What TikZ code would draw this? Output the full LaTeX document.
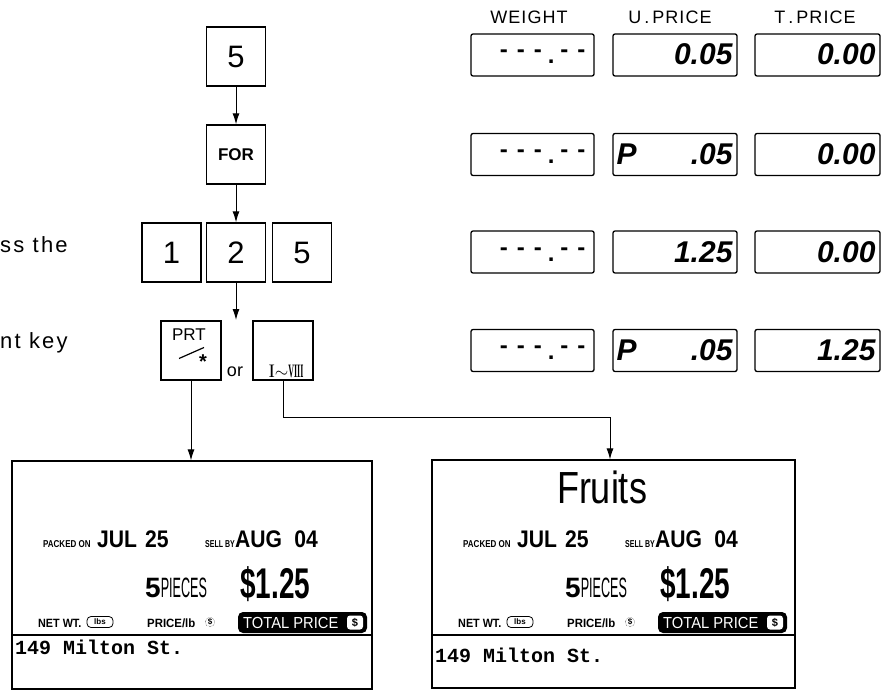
\documentclass[tikz,border=0pt]{standalone}
\usepackage{fontspec}
\usepackage{graphicx}
\setmainfont{Liberation Sans}
\setmonofont{Liberation Mono}
\newfontfamily\romanfont{Liberation Serif}
\usetikzlibrary{arrows.meta,calc}
\newcommand{\fs}[1]{\fontsize{#1}{#1}\selectfont}
\newcommand{\cnd}[2]{\scalebox{#1}[1]{#2}}
\newcommand{\lcddashes}{-\hspace{9pt}-\hspace{9pt}-\hspace{6pt}\raisebox{-6pt}{.}\hspace{6pt}-\hspace{9pt}-}
\tikzset{
 keybox/.style={draw, line width=1.3pt, minimum width=59pt, minimum height=59pt, inner sep=0pt},
 disp/.style={draw, line width=1.3pt, rounded corners=2pt, minimum height=42pt, inner sep=0pt},
 arr/.style={line width=1pt, -{Latex[length=11pt,width=7pt]}},
 labelbox/.style={draw, line width=1.1pt, inner sep=0pt},
 hdr/.style={font=\fs{18}\addfontfeature{LetterSpace=6}, inner sep=0pt},
 lcd/.style={font=\bfseries\itshape\fs{30}, inner sep=0pt, anchor=base east},
 txt/.style={inner sep=0pt, anchor=base west},
}
\newcommand{\labelcontent}[2]{%
 \node[txt, font=\bfseries\fs{10}] (#1packed) at (43,547) {\cnd{0.8}{PACKED ON}};
 \node[txt, font=\bfseries\fs{24}] (#1jul) at (97,547) {\cnd{0.88}{JUL\hspace{9pt}25}};
 \node[txt, font=\bfseries\fs{10}] (#1sell) at (205,547) {\cnd{0.7}{SELL BY}};
 \node[txt, font=\bfseries\fs{24}] (#1aug) at (235,547) {\cnd{0.88}{AUG\hspace{14pt}04}};
 \node[txt, font=\fs{28}] (#1pcs) at (145,597) {\textbf{5}\cnd{0.45}{PIECES}};
 \node[txt, font=\bfseries\fs{43}] (#1price) at (240,598) {\cnd{0.65}{\$1.25}};
 \node[txt, font=\bfseries\fs{12}] (#1net) at (38,627) {\cnd{0.9}{NET WT.}};
 \node[draw, line width=0.8pt, rounded corners=4pt, minimum width=26pt, minimum height=11pt, inner sep=0pt, font=\bfseries\fs{8}] (#1lbs) at (100,622) {lbs};
 \node[txt, font=\bfseries\fs{12}] (#1plb) at (147,627) {\cnd{0.95}{PRICE/lb}};
 \node[draw, densely dotted, circle, inner sep=0.6pt, font=\bfseries\fs{8}] (#1dol) at (210,622) {\$};
 \node[fill=black, rounded corners=5pt, minimum width=129pt, minimum height=21pt, inner sep=0pt] (#1tot) at (302.5,622.5) {};
 \node[txt, text=white, font=\fs{16}] (#1tott) at (243,628) {\cnd{0.92}{TOTAL PRICE}};
 \node[fill=white, rounded corners=3pt, minimum width=16pt, minimum height=14pt, inner sep=0pt, font=\bfseries\fs{11}] (#1totd) at (355,622.5) {\$};
 \node[txt, font=\ttfamily\bfseries\fs{20}] (#1addr) at (15,#2) {149 Milton St.};
}
\begin{document}
\begin{tikzpicture}[x=1pt, y=-1pt]
\useasboundingbox (0,0) rectangle (884,690);

% left partial text
\node[txt, font=\fs{22}\addfontfeature{LetterSpace=10}] (tx1) at (0,252) {ss the};
\node[txt, font=\fs{22}\addfontfeature{LetterSpace=10}] (tx2) at (0,348) {nt key};

% keys
\node[keybox] (k5) at (236,56.5) {\fs{31}5};
\node[keybox] (kfor) at (236,154.5) {\bfseries\fs{17}FOR};
\node[keybox] (k1) at (171.5,252.5) {\fs{31}1};
\node[keybox] (k2) at (236,252.5) {\fs{31}2};
\node[keybox] (k5b) at (302,252.5) {\fs{31}5};
\node[keybox, minimum width=60pt] (kprt) at (191,350.5) {};
\node[inner sep=0pt, font=\fs{17}] (kprtt) at (189,335) {PRT};
\draw[line width=1.2pt] ([shift={(-12pt,-8pt)}]kprt.center) coordinate (sa) -- ([shift={(13pt,3pt)}]kprt.center) coordinate (sb);
\node[inner sep=0pt, font=\bfseries\fs{20}] (kstar) at (203,362) {*};
\node[inner sep=0pt, anchor=base, font=\fs{18}] (or) at (235,376) {or};
\node[keybox, minimum width=60pt] (krom) at (283,350.5) {};
\node[inner sep=0pt, anchor=base, font=\romanfont\fs{19}] (kromt) at (286,377) {I$\sim$\cnd{0.42}{\bfseries VIII}};

\coordinate (free) at (236,320);
\coordinate (bend) at (610,417);

% labels
\node[labelbox, minimum width=360pt, minimum height=228pt] (lab1) at (192,575) {};
\node[labelbox, minimum width=363pt, minimum height=228pt] (lab2) at (613.5,574) {};
\draw[line width=1.1pt] (lab1.west |- 0,635) -- (lab1.east |- 0,635);
\draw[line width=1.1pt] (lab2.west |- 0,635) -- (lab2.east |- 0,635);
\labelcontent{a}{654}
\begin{scope}[xshift=420pt]
\labelcontent{b}{662}
\end{scope}
\node[inner sep=0pt, anchor=base, font=\fs{45}] (fruit) at (602,503) {\cnd{0.8}{Fruits}};

% connectors
\draw[arr] (k5) -- (kfor);
\draw[arr] (kfor) -- (k2);
\draw[arr] (k2) -- (free);
\draw[arr] (kprt.south) -- (kprt.south |- lab1.north);
\draw[arr] (krom.south) |- (bend) -- (bend |- lab2.north);

% displays
\node[hdr] (hw) at (529,17) {WEIGHT};
\node[hdr] (hu) at (670,17) {U\,.\,PRICE};
\node[hdr] (ht) at (815,17) {T\,.\,PRICE};
\foreach \r/\yy in {1/55,2/154.5,3/252,4/350.5}{
 \node[disp, minimum width=123pt] (w\r) at (532.5,\yy) {};
 \node[disp, minimum width=124pt] (u\r) at (675,\yy) {};
 \node[disp, minimum width=125pt] (t\r) at (817.5,\yy) {};
 \node[inner sep=0pt, anchor=base east, font=\bfseries\fs{24}] (wd\r) at ([shift={(-9pt,-3pt)}]w\r.east) {\lcddashes};
}
\node[lcd] (u1d) at ([shift={(-5pt,-10pt)}]u1.east) {0.05};
\node[lcd] (u2d) at ([shift={(-5pt,-10pt)}]u2.east) {.05};
\node[lcd, anchor=base west] (u2p) at ([shift={(4pt,-10pt)}]u2.west) {P};
\node[lcd] (u3d) at ([shift={(-5pt,-10pt)}]u3.east) {1.25};
\node[lcd] (u4d) at ([shift={(-5pt,-10pt)}]u4.east) {.05};
\node[lcd, anchor=base west] (u4p) at ([shift={(4pt,-10pt)}]u4.west) {P};
\node[lcd] (t1d) at ([shift={(-5pt,-10pt)}]t1.east) {0.00};
\node[lcd] (t2d) at ([shift={(-5pt,-10pt)}]t2.east) {0.00};
\node[lcd] (t3d) at ([shift={(-5pt,-10pt)}]t3.east) {0.00};
\node[lcd] (t4d) at ([shift={(-5pt,-10pt)}]t4.east) {1.25};
\end{tikzpicture}
\end{document}
